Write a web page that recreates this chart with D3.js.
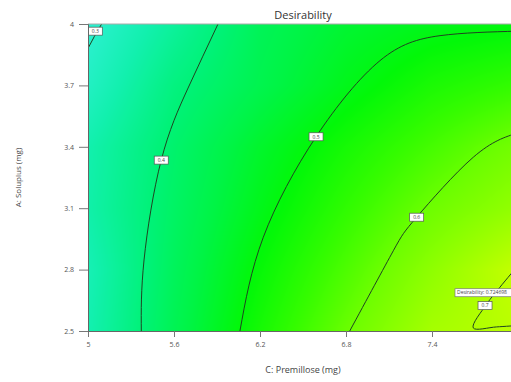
<!DOCTYPE html>
<html>
<head>
<meta charset="utf-8">
<script src="https://cdn.jsdelivr.net/npm/d3@7"></script>
<style>
  body { margin: 0; background: #fff; }
  svg { display: block; font-family: "Open Sans", "Noto Sans", sans-serif; }
</style>
</head>
<body>
<div id="chart"></div>
<script>
// axis ticks (C: Premillose on x, A: Soluplus on y); the 8 tick falls outside the picture
const xTicks = [5, 5.6, 6.2, 6.8, 7.4];
const yTicks = [2.5, 2.8, 3.1, 3.4, 3.7, 4];

// desirability read at the tick grid, one row per y tick (bottom to top)
const gridX = [5, 5.6, 6.2, 6.8, 7.4, 8];
const gridY = [2.5, 2.8, 3.1, 3.4, 3.7, 4];
const desirGrid = [
    [0.337, 0.435, 0.520, 0.597, 0.665, 0.690],
    [0.330, 0.427, 0.504, 0.572, 0.639, 0.702],
    [0.345, 0.418, 0.485, 0.545, 0.602, 0.645],
    [0.340, 0.410, 0.470, 0.520, 0.565, 0.610],
    [0.310, 0.390, 0.440, 0.485, 0.525, 0.550],
    [0.290, 0.360, 0.430, 0.465, 0.485, 0.495]
];

// contour lines [C, A]
const contour03 = [[5.0, 3.881], [5.045, 3.94], [5.095, 4.0]];
const contour04 = [[5.372, 2.5], [5.391, 2.847], [5.511, 3.335], [5.698, 3.687], [5.907, 4.0]];
const contour05 = [[6.06, 2.5], [6.223, 2.958], [6.591, 3.449], [7.037, 3.821], [7.456, 3.943], [8.0, 3.965]];
const contour06 = [[6.826, 2.5], [7.13, 2.892], [7.293, 3.056], [7.688, 3.349], [8.0, 3.468]];
const contour07 = [[8.0, 2.527], [7.85, 2.52], [7.688, 2.515], [7.782, 2.632], [7.874, 2.714], [8.0, 2.82]];

const contourLevels = [0.3, 0.4, 0.5, 0.6, 0.7];
const contourLines = [contour03, contour04, contour05, contour06, contour07];
// where each level label sits on its line [C, A]
const contourLabelAt = [[5.051, 3.965], [5.511, 3.335], [6.591, 3.449], [7.293, 3.056], [7.77, 2.624]];

// optimum flag
const flagPoint = [8.0, 2.665];
const flagText = "Desirability: 0.724698";

const W = 511, H = 382;
const margin = {top: 24, left: 88};
const plotW = 430, plotH = 307;

const svg = d3.select("#chart").append("svg")
    .attr("width", W)
    .attr("height", H);

const x = d3.scaleLinear().domain([5, 8]).range([margin.left, margin.left + plotW]);
const y = d3.scaleLinear().domain([2.5, 4]).range([margin.top + plotH, margin.top]);

const color = d3.scaleLinear()
    .domain([0.28, 0.34, 0.40, 0.45, 0.50, 0.55, 0.60, 0.65, 0.70, 0.74])
    .range(["#32f0d8", "#12f0ae", "#00f276", "#00f444", "#02f808", "#34fc00", "#6cfe00", "#98ff00", "#c4ff00", "#d6f400"])
    .clamp(true);

// fill: paint the grid into a canvas, then drop it in as an image
function valueAt(cx, cy) {
    let i = d3.bisectRight(gridX, cx) - 1;
    let j = d3.bisectRight(gridY, cy) - 1;
    i = Math.max(0, Math.min(gridX.length - 2, i));
    j = Math.max(0, Math.min(gridY.length - 2, j));
    const tx = (cx - gridX[i]) / (gridX[i + 1] - gridX[i]);
    const ty = (cy - gridY[j]) / (gridY[j + 1] - gridY[j]);
    const a = desirGrid[j][i], b = desirGrid[j][i + 1];
    const c = desirGrid[j + 1][i], d = desirGrid[j + 1][i + 1];
    return (a * (1 - tx) + b * tx) * (1 - ty) + (c * (1 - tx) + d * tx) * ty;
}

const canvas = document.createElement("canvas");
canvas.width = plotW;
canvas.height = plotH;
const ctx = canvas.getContext("2d");
const img = ctx.createImageData(plotW, plotH);
for (let py = 0; py < plotH; py++) {
    const cy = y.invert(margin.top + py + 0.5);
    for (let px = 0; px < plotW; px++) {
        const cx = x.invert(margin.left + px + 0.5);
        const rgb = d3.rgb(color(valueAt(cx, cy)));
        const k = (py * plotW + px) * 4;
        img.data[k] = rgb.r;
        img.data[k + 1] = rgb.g;
        img.data[k + 2] = rgb.b;
        img.data[k + 3] = 255;
    }
}
ctx.putImageData(img, 0, 0);

svg.append("image")
    .attr("x", x(5))
    .attr("y", y(4))
    .attr("width", x(8) - x(5))
    .attr("height", y(2.5) - y(4))
    .attr("preserveAspectRatio", "none")
    .attr("href", canvas.toDataURL());

svg.append("clipPath").attr("id", "plotClip")
    .append("rect")
    .attr("x", x(5)).attr("y", y(4))
    .attr("width", x(8) - x(5)).attr("height", y(2.5) - y(4));

const plot = svg.append("g").attr("clip-path", "url(#plotClip)");

// contour lines: smooth spline, except the pointed 0.7 loop
const smoothLine = d3.line()
    .x(d => x(d[0]))
    .y(d => y(d[1]))
    .curve(d3.curveNatural);
const loopLine = d3.line()
    .x(d => x(d[0]))
    .y(d => y(d[1]))
    .curve(d3.curveCatmullRom.alpha(0.5));

plot.selectAll(".contour")
    .data(contourLines)
    .enter().append("path")
    .attr("class", "contour")
    .attr("d", (d, i) => contourLevels[i] === 0.7 ? loopLine(d) : smoothLine(d))
    .attr("fill", "none")
    .attr("stroke", "#1f4420")
    .attr("stroke-width", 1);

// contour labels
const labels = plot.selectAll(".clabel")
    .data(contourLevels)
    .enter().append("g")
    .attr("class", "clabel")
    .attr("transform", (d, i) => `translate(${x(contourLabelAt[i][0])},${y(contourLabelAt[i][1])})`);

labels.append("rect")
    .attr("x", -7).attr("y", -4)
    .attr("width", 14).attr("height", 8)
    .attr("fill", "#fff")
    .attr("stroke", "#555")
    .attr("stroke-width", 0.7);

labels.append("text")
    .attr("text-anchor", "middle")
    .attr("dy", "0.35em")
    .style("font-size", "5px")
    .style("fill", "#444")
    .text(d => d.toFixed(1));

// optimum flag
const flag = plot.append("g")
    .attr("transform", `translate(${x(flagPoint[0])},${y(flagPoint[1])})`);
flag.append("rect")
    .attr("x", -63).attr("y", -8.5)
    .attr("width", 72).attr("height", 8)
    .attr("fill", "#fff")
    .attr("stroke", "#777")
    .attr("stroke-width", 0.7);
flag.append("text")
    .attr("x", -61).attr("y", -4.5)
    .attr("dy", "0.35em")
    .style("font-size", "5px")
    .style("fill", "#444")
    .text(flagText);

// frame
svg.append("line")
    .attr("x1", x(5)).attr("x2", x(8))
    .attr("y1", y(4)).attr("y2", y(4))
    .attr("stroke", "#aaa").attr("stroke-width", 1);

// axes
const xAxis = svg.append("g")
    .attr("transform", `translate(0,${y(2.5)})`)
    .call(d3.axisBottom(x).tickValues(xTicks).tickFormat(d3.format("")).tickSize(6).tickPadding(5));
const yAxis = svg.append("g")
    .attr("transform", `translate(${x(5)},0)`)
    .call(d3.axisLeft(y).tickValues(yTicks).tickFormat(d3.format("")).tickSize(9).tickPadding(5));

[xAxis, yAxis].forEach(g => {
    g.select(".domain").attr("stroke", "#666");
    g.selectAll(".tick line").attr("stroke", "#777");
    g.selectAll(".tick text")
        .style("font-family", "'Open Sans', sans-serif")
        .style("font-size", "7px")
        .style("fill", "#555");
});

// title and axis titles
svg.append("text")
    .attr("x", (x(5) + x(8)) / 2)
    .attr("y", 19)
    .attr("text-anchor", "middle")
    .style("font-size", "11px")
    .style("fill", "#333")
    .text("Desirability");

svg.append("text")
    .attr("x", (x(5) + x(8)) / 2)
    .attr("y", 373)
    .attr("text-anchor", "middle")
    .style("font-size", "9px")
    .style("fill", "#444")
    .text("C: Premillose (mg)");

svg.append("text")
    .attr("transform", `translate(21,${(y(2.5) + y(4)) / 2}) rotate(-90)`)
    .attr("text-anchor", "middle")
    .style("font-size", "8px")
    .style("fill", "#444")
    .text("A: Soluplus (mg)");
</script>
</body>
</html>
